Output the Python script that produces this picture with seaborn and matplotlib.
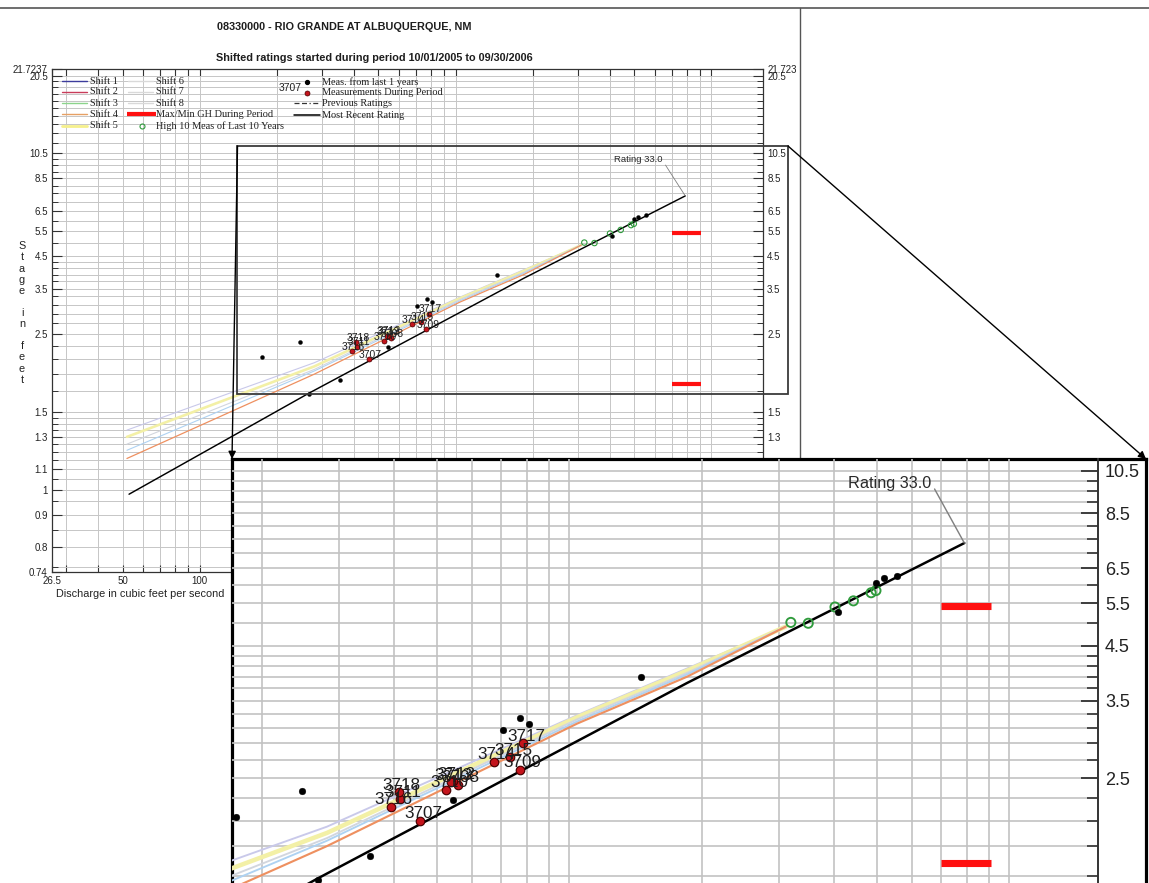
import numpy as np
import matplotlib
matplotlib.use("Agg")
import matplotlib.pyplot as plt
from matplotlib.lines import Line2D
from matplotlib.patches import Rectangle, FancyArrowPatch
from matplotlib.ticker import FixedLocator, FixedFormatter, NullFormatter
import seaborn as sns

sns.set_theme(style="white")
plt.rcParams["font.family"] = ["Liberation Sans", "DejaVu Sans"]

W, H, DPI = 1149, 883, 100

STATION = "08330000 - RIO GRANDE AT ALBUQUERQUE, NM"
SUBTITLE = "Shifted ratings started during period 10/01/2005 to 09/30/2006"
X_LABEL = "Discharge in cubic feet per second"
Y_LABEL = "Stage in feet"
RATING_LABEL = "Rating 33.0"

E_OFFSET = 0.5          # gage height of zero flow for the stage axis
Q_LIMITS = (26.5, 15900)
GH_LIMITS = (0.74, 21.7237)

# ---- most recent rating (33.0)
rating_q = [53, 267, 1850, 7900]
rating_gh = [0.98, 1.68, 3.79, 7.35]

# ---- shifted ratings
shift_q = [52, 281, 1041, 1850, 3100]
shift_gh = {
    "s_top":    [1.35, 2.05, 3.28, 4.05, 4.92],
    "s_yellow": [1.30, 2.00, 3.25, 4.01, 4.92],
    "s_grey":   [1.25, 1.96, 3.22, 3.97, 4.92],
    "s_blue":   [1.21, 1.94, 3.19, 3.94, 4.92],
    "s_orange": [1.16, 1.90, 3.16, 3.90, 4.92],
}
shift_color = {"s_top": "#c9c9ea", "s_yellow": "#f3f0a6", "s_grey": "#d2d6de",
               "s_blue": "#aed2f2", "s_orange": "#ee9060"}
shift_width = {"s_top": 0.8, "s_yellow": 1.9, "s_grey": 0.8, "s_blue": 0.8, "s_orange": 0.9}

# ---- measurements from last 1 year
meas_q = [175, 247, 268, 353, 543, 706, 773, 808, 1458, 4070, 4980, 5180, 5560]
meas_gh = [2.13, 2.37, 1.67, 1.83, 2.28, 3.07, 3.24, 3.16, 3.89, 5.28, 6.07, 6.19, 6.26]

# ---- measurements during period
period_id = [3707, 3708, 3709, 3710, 3711, 3712, 3713, 3714, 3715, 3716, 3717, 3718]
period_q = [458, 558, 770, 525, 412, 545, 538, 673, 733, 393, 786, 409]
period_gh = [2.10, 2.43, 2.59, 2.38, 2.29, 2.47, 2.46, 2.68, 2.73, 2.22, 2.90, 2.36]

# ---- high 10 measurements of last 10 years
high_q = [3186, 3490, 4014, 4420, 4850, 4974]
high_gh = [5.02, 5.00, 5.40, 5.56, 5.78, 5.84]

# ---- max / min gage height during period
maxmin_q = [7000, 9100]
max_gh = 5.42
min_gh = 1.78

# ---- axis ticks
x_tick_vals = [26.5, 50, 100, 200, 500, 1000, 2000, 5000, 10000]
x_tick_text = ["26.5", "50", "100", "200", "500", "1000", "2000", "5000", "10000"]
x_grid_vals = [30, 40, 60, 70, 80, 90, 300, 400, 600, 700, 800, 900,
               3000, 4000, 6000, 7000, 8000, 9000]
y_tick_vals = [0.74, 0.8, 0.9, 1.0, 1.1, 1.3, 1.5, 2.5, 3.5, 4.5, 5.5, 6.5, 8.5, 10.5, 20.5, 21.7237]
y_tick_text = ["0.74", "0.8", "0.9", "1", "1.1", "1.3", "1.5", "2.5", "3.5", "4.5",
               "5.5", "6.5", "8.5", "10.5", "20.5", "21.7237"]
y_tick_text_right = y_tick_text[:-1] + ["21.723"]
y_grid_vals = [0.75, 0.85, 0.95, 1.05, 1.15, 1.2, 1.25, 1.35, 1.4, 1.45,
               1.7, 1.9, 2.1, 2.3, 2.7, 2.9, 3.1, 3.3, 3.7, 3.9, 4.1, 4.3,
               5.0, 6.0, 7.0, 7.5, 8.0, 9.0, 9.5, 10.0,
               11.5, 12.5, 13.5, 14.5, 15.5, 16.5, 17.5, 18.5, 19.5]


def stage_fwd(v):
    v = np.asarray(v, dtype=float)
    return np.log10(np.clip(v - E_OFFSET, 1e-6, None))


def stage_inv(v):
    return np.power(10.0, np.asarray(v, dtype=float)) + E_OFFSET


def px_rect(x0, y0, x1, y1):
    return [x0 / W, 1 - y1 / H, (x1 - x0) / W, (y1 - y0) / H]


def fpt(x, y):
    return (x / W, 1 - y / H)


def set_scales(a, xlim, ylim):
    a.set_xscale("log")
    a.set_yscale("function", functions=(stage_fwd, stage_inv))
    a.set_xlim(*xlim)
    a.set_ylim(*ylim)


def set_grid_ticks(a, grid_lw, grid_color):
    a.xaxis.set_major_locator(FixedLocator(x_tick_vals))
    a.xaxis.set_major_formatter(FixedFormatter(x_tick_text))
    a.xaxis.set_minor_locator(FixedLocator(x_grid_vals))
    a.xaxis.set_minor_formatter(NullFormatter())
    a.yaxis.set_major_locator(FixedLocator(y_tick_vals))
    a.yaxis.set_major_formatter(FixedFormatter(y_tick_text))
    a.yaxis.set_minor_locator(FixedLocator(y_grid_vals))
    a.yaxis.set_minor_formatter(NullFormatter())
    a.grid(which="both", color=grid_color, lw=grid_lw)
    a.set_axisbelow(True)


def draw_panel(a, k, label_fs, rating_fs, rating_offset):
    for key, gh in shift_gh.items():
        sns.lineplot(x=shift_q, y=gh, ax=a, color=shift_color[key],
                     lw=shift_width[key] * k, sort=False, estimator=None,
                     legend=False, zorder=2)
    sns.lineplot(x=rating_q, y=rating_gh, ax=a, color="black", lw=1.05 * k,
                 sort=False, estimator=None, legend=False, zorder=3)
    for gh in (max_gh, min_gh):
        sns.lineplot(x=maxmin_q, y=[gh, gh], ax=a, color="#ff1010", lw=3.0 * k,
                     sort=False, estimator=None, legend=False, zorder=3,
                     solid_capstyle="butt")
    sns.scatterplot(x=high_q, y=high_gh, ax=a, marker="o", s=15 * k * k,
                    facecolor="none", edgecolor="#2f9b3c", linewidth=0.8 * k,
                    legend=False, zorder=4)
    sns.scatterplot(x=meas_q, y=meas_gh, ax=a, color="black", edgecolor="black",
                    s=8 * k * k, linewidth=0.3, legend=False, zorder=5)
    sns.scatterplot(x=period_q, y=period_gh, ax=a, color="#c4141c",
                    edgecolor="#4a0000", s=13 * k * k, linewidth=0.5 * k,
                    legend=False, zorder=6)
    for pid, q, gh in zip(period_id, period_q, period_gh):
        a.annotate(str(pid), (q, gh), xytext=(1.2 * k, 1.0 * k),
                   textcoords="offset points", ha="center", va="baseline",
                   fontsize=label_fs, color="#1e1e1e", zorder=7)
    a.annotate(RATING_LABEL, (rating_q[-1], rating_gh[-1]), xytext=rating_offset,
               textcoords="offset points", ha="right", va="center",
               fontsize=rating_fs, color="#2a2a2a", zorder=7,
               arrowprops=dict(arrowstyle="-", color="#808080", lw=0.6 * k,
                               shrinkA=0, shrinkB=0, relpos=(1.0, 0.5)))


fig = plt.figure(figsize=(W / DPI, H / DPI), dpi=DPI)
fig.patch.set_facecolor("white")

# ------------------------------------------------------------ main chart
ax = fig.add_axes(px_rect(52, 69, 763, 572))
ax.set_facecolor("white")
set_scales(ax, Q_LIMITS, GH_LIMITS)
draw_panel(ax, 1.0, 7.5, 6.8, (-16.6, 25.9))
set_scales(ax, Q_LIMITS, GH_LIMITS)
set_grid_ticks(ax, 0.7, "#c6c6c6")
ax.set_xlabel("")
ax.set_ylabel("")
for s in ax.spines.values():
    s.set_color("#333333")
    s.set_linewidth(0.9)
ax.tick_params(axis="x", which="both", direction="in", top=True, bottom=True,
               length=5, width=0.8, color="#333333", labelsize=7, pad=3,
               labelcolor="#222222")
ax.tick_params(axis="y", which="major", direction="in", left=True, right=False,
               length=7, width=0.8, color="#333333", labelsize=7, pad=3,
               labelcolor="#222222")
ax.tick_params(axis="y", which="minor", direction="in", left=True, right=False,
               length=4, width=0.7, color="#333333")

ax_r = ax.twinx()
ax_r.set_yscale("function", functions=(stage_fwd, stage_inv))
ax_r.set_ylim(*GH_LIMITS)
ax_r.yaxis.set_major_locator(FixedLocator(y_tick_vals))
ax_r.yaxis.set_major_formatter(FixedFormatter(y_tick_text_right))
ax_r.yaxis.set_minor_locator(FixedLocator(y_grid_vals))
ax_r.yaxis.set_minor_formatter(NullFormatter())
ax_r.grid(False)
for s in ax_r.spines.values():
    s.set_visible(False)
ax_r.tick_params(axis="y", which="major", direction="in", right=True, length=7,
                 width=0.8, color="#333333", labelsize=7, pad=3, labelcolor="#222222")
ax_r.tick_params(axis="y", which="minor", direction="in", right=True, length=4,
                 width=0.7, color="#333333")

fig.text(344 / W, 1 - 27 / H, STATION, ha="center", va="center",
         fontsize=7.8, fontweight="bold", color="#1e1e1e")
fig.text(374 / W, 1 - 58 / H, SUBTITLE, ha="center", va="center",
         fontsize=7.8, fontweight="bold", color="#1e1e1e")
fig.text(140 / W, 1 - 594 / H, X_LABEL, ha="center", va="center",
         fontsize=7.8, color="#222222")
fig.text(22 / W, 1 - 313 / H, "\n".join(Y_LABEL),
         ha="center", va="center", fontsize=7.8, linespacing=1.14, color="#222222")

# ------------------------------------------------------------ legend block
serif = ["Liberation Serif", "DejaVu Serif"]
leg_fs = 7.4
rows = [81, 92, 103, 114.5, 126]
legend_col1 = [("Shift 1", "#3c3c9c", 1.0), ("Shift 2", "#c83c5a", 1.0),
               ("Shift 3", "#8cd48c", 1.0), ("Shift 4", "#e6a064", 1.0),
               ("Shift 5", "#f5f08c", 2.0)]
for (txt, col, lw), y in zip(legend_col1, rows):
    fig.add_artist(Line2D([62 / W, 87 / W], [1 - y / H] * 2, color=col, lw=lw))
    fig.text(90 / W, 1 - y / H, txt, ha="left", va="center", fontsize=leg_fs,
             family=serif, color="#222222")
for txt, y in zip(["Shift 6", "Shift 7", "Shift 8"], rows[:3]):
    fig.add_artist(Line2D([128 / W, 153 / W], [1 - y / H] * 2, color="#d9d9d9", lw=1.0))
    fig.text(156 / W, 1 - y / H, txt, ha="left", va="center", fontsize=leg_fs,
             family=serif, color="#222222")
fig.add_artist(Line2D([127 / W, 156 / W], [1 - rows[3] / H] * 2, color="#ff1010",
                      lw=3.0, solid_capstyle="butt"))
fig.text(156 / W, 1 - rows[3] / H, "Max/Min GH During Period", ha="left", va="center",
         fontsize=leg_fs, family=serif, color="#222222")
fig.add_artist(Line2D([142 / W], [1 - rows[4] / H], marker="o", ms=3.6, mfc="none",
                      mec="#2f9b3c", mew=0.8, lw=0))
fig.text(156 / W, 1 - rows[4] / H, "High 10 Meas of Last 10 Years", ha="left",
         va="center", fontsize=leg_fs, family=serif, color="#222222")

fig.text(302 / W, 1 - 88 / H, "3707", ha="right", va="center", fontsize=7.5,
         color="#222222")
fig.add_artist(Line2D([306.5 / W], [1 - 81.7 / H], marker="o", ms=2.8, mfc="black",
                      mec="black", lw=0))
fig.add_artist(Line2D([306.5 / W], [1 - 92.7 / H], marker="o", ms=3.6, mfc="#c4141c",
                      mec="#4a0000", mew=0.5, lw=0))
fig.add_artist(Line2D([294 / W, 319 / W], [1 - 103.3 / H] * 2, color="#333333",
                      lw=0.9, ls=(0, (4, 2, 4, 2, 1, 2))))
fig.add_artist(Line2D([294 / W, 320 / W], [1 - 115 / H] * 2, color="black", lw=1.1))
for txt, y in [("Meas. from last 1 years", 81.7), ("Measurements During Period", 92.7),
               ("Previous Ratings", 103.3), ("Most Recent Rating", 115)]:
    fig.text(322.5 / W, 1 - y / H, txt, ha="left", va="center", fontsize=leg_fs,
             family=serif, color="#222222")

# ------------------------------------------------------------ page rules
fig.add_artist(Line2D([0, 1], [1 - 8 / H] * 2, color="#555555", lw=1.2, zorder=5))
fig.add_artist(Line2D([800 / W] * 2, [1 - 8 / H, 1 - 459 / H], color="#555555",
                      lw=1.0, zorder=5))

# zoom window on the main chart
fig.add_artist(Rectangle(fpt(237.5, 394), 550.5 / W, 248 / H, fill=False,
                         edgecolor="#3a3a3a", lw=1.3, zorder=6))

# ------------------------------------------------------------ magnified view
ax_frame = fig.add_axes(px_rect(232, 459, 1146, 895), zorder=10)
ax_frame.set_facecolor("white")
ax_frame.set_xticks([])
ax_frame.set_yticks([])
for s in ax_frame.spines.values():
    s.set_color("black")
    s.set_linewidth(2.3)

ax_in = fig.add_axes(px_rect(232, 459, 1098, 883), zorder=11)
ax_in.patch.set_alpha(0)
IN_Q = (171, 15900)
IN_GH = (1.654, 11.14)
set_scales(ax_in, IN_Q, IN_GH)
draw_panel(ax_in, 1.7, 12.3, 11.7, (-23.8, 43.2))
set_scales(ax_in, IN_Q, IN_GH)
set_grid_ticks(ax_in, 1.2, "#c2c2c2")
ax_in.set_xlabel("")
ax_in.set_ylabel("")
ax_in.yaxis.set_major_formatter(FixedFormatter(y_tick_text_right))
for name, s in ax_in.spines.items():
    s.set_visible(name == "right")
ax_in.spines["right"].set_color("#333333")
ax_in.spines["right"].set_linewidth(1.4)
ax_in.tick_params(axis="x", which="both", bottom=False, top=False, labelbottom=False)
ax_in.tick_params(axis="y", which="major", direction="in", left=False, right=True,
                  labelleft=False, labelright=True, length=12, width=1.3,
                  color="#333333", labelsize=13, pad=5, labelcolor="#222222")
ax_in.tick_params(axis="y", which="minor", direction="in", left=False, right=True,
                  length=8, width=1.2, color="#333333")

# connectors from the zoom window to the magnified view
for (x0, y0), (x1, y1) in [((237.5, 146), (232, 459)), ((788, 146), (1146, 459))]:
    fig.add_artist(FancyArrowPatch(fpt(x0, y0), fpt(x1, y1), transform=fig.transFigure,
                                   arrowstyle="-|>", mutation_scale=11, color="black",
                                   lw=1.0, shrinkA=0, shrinkB=0, zorder=12))

fig.savefig("out.png", dpi=DPI, facecolor="white")
